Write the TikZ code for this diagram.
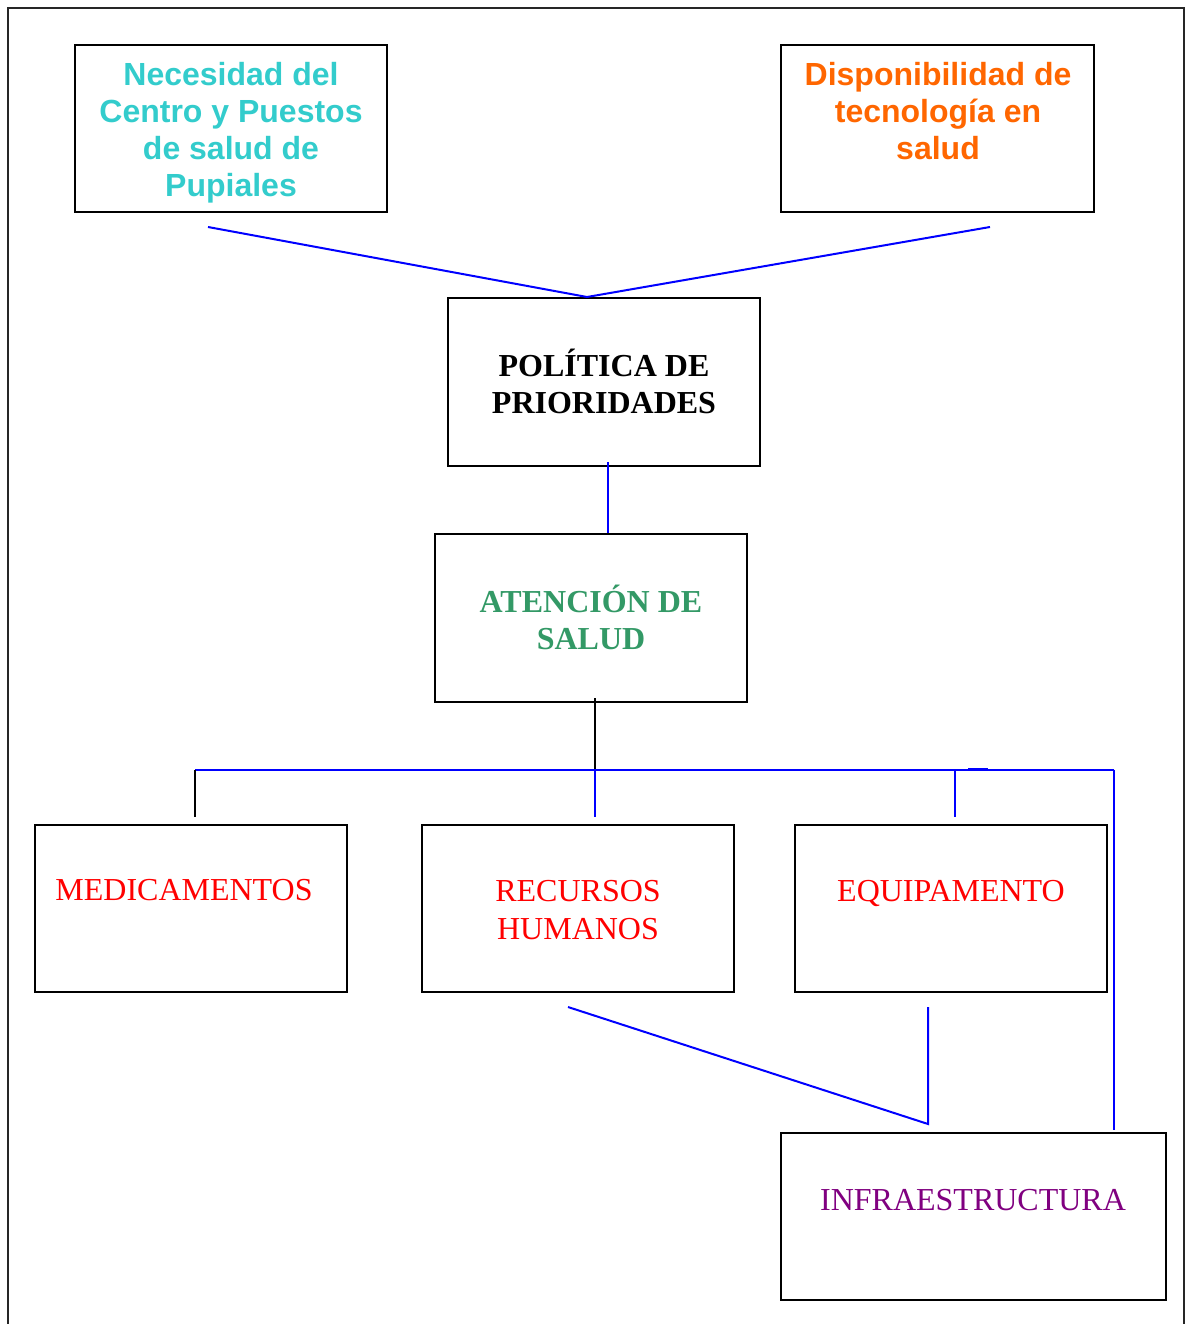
\documentclass[tikz,border=0pt]{standalone}
\usepackage{fontspec}
\setmainfont{Liberation Serif}
\newfontfamily\sansf{Liberation Sans}
\usetikzlibrary{calc}
\definecolor{cyanT}{RGB}{51,204,204}
\definecolor{orangeT}{RGB}{255,102,0}
\definecolor{greenT}{RGB}{51,153,102}
\definecolor{purpleT}{RGB}{128,0,128}
\definecolor{blueL}{RGB}{0,0,255}
\begin{document}
\begin{tikzpicture}[x=1pt,y=-1pt,
  box/.style={draw=black, line width=2pt, minimum width=312pt, minimum height=167pt, inner sep=0pt},
  sanslbl/.style={font=\sansf\bfseries\fontsize{32}{37}\selectfont, align=center, inner sep=0pt},
  seriflbl/.style={font=\fontsize{32}{38}\selectfont, align=center, inner sep=0pt},
  serifbold/.style={font=\bfseries\fontsize{32}{37}\selectfont, align=center, inner sep=0pt},
  bline/.style={draw=blueL, line width=2pt},
  kline/.style={draw=black, line width=2pt}]
\useasboundingbox (0,0) rectangle (1185,1324);
\draw[line width=2pt, black!85] (8,1324) -- (8,8) -- (1184,8) -- (1184,1324);

% boxes
\node[box] (n1) at (231,128.5) {};
\node[box, minimum width=313pt] (n2) at (937.5,128.5) {};
\node[box, minimum height=168pt] (pol) at (604,382) {};
\node[box, minimum height=168pt] (ate) at (591,618) {};
\node[box] (med) at (191,908.5) {};
\node[box] (rec) at (578,908.5) {};
\node[box] (equ) at (951,908.5) {};
\node[box, minimum width=385pt] (inf) at (973.5,1216.5) {};

% texts
\node[sanslbl, text=cyanT] (t1) at (231,132.5) {Necesidad del\\Centro y Puestos\\de salud de\\Pupiales};
\node[sanslbl, text=orangeT] (t2) at (938,111) {Disponibilidad de\\tecnología en\\salud};
\node[serifbold, text=black] (tp) at (604,381) {POLÍTICA DE\\PRIORIDADES};
\node[serifbold, text=greenT] (ta) at (591,617) {ATENCIÓN DE\\SALUD};
\node[seriflbl, text=red] (tm) at (184,890) {MEDICAMENTOS};
\node[seriflbl, text=red] (tr) at (578,910) {RECURSOS\\HUMANOS};
\node[seriflbl, text=red] (te) at (951,893) {EQUIPAMENTO};
\node[seriflbl, text=purpleT] (ti) at (973,1200) {INFRAESTRUCTURA};

% connector points
\coordinate (apex) at ($(pol.north)+(-17,0)$);
\coordinate (hub) at ($(ate.south)+(4,68)$);
\coordinate (L) at ($(med.north)+(4,-54.5)$);
\coordinate (R) at ($(inf.north)+(140.5,-362.5)$);
\coordinate (E) at ($(equ.north)+(4,-54.5)$);
\coordinate (corner) at ($(inf.north)+(-45.5,-8)$);

% top connectors
\draw[bline] ($(n1.south)+(-23,14)$) -- (apex) -- ($(n2.south)+(52.5,14)$);
\draw[bline] ($(pol.south)+(4,-5)$) -- ($(ate.north)+(17,0)$);
\draw[kline] ($(ate.south)+(4,-5)$) -- (hub);

% distribution bar
\draw[bline] (L) -- (R);
\draw[blueL, line width=3pt] ($(E)+(13,-0.5)$) -- ($(E)+(33,-0.5)$);
\draw[kline] (L) -- ($(med.north)+(4,-7)$);
\draw[bline] (hub) -- ($(rec.north)+(17,-7)$);
\draw[bline] (E) -- ($(equ.north)+(4,-7)$);
\draw[bline] (R) -- ($(inf.north)+(140.5,-2)$);

% lower connectors
\draw[bline] ($(rec.south)+(-10,14)$) -- (corner) -- ($(equ.south)+(-23,14)$);
\end{tikzpicture}
\end{document}
